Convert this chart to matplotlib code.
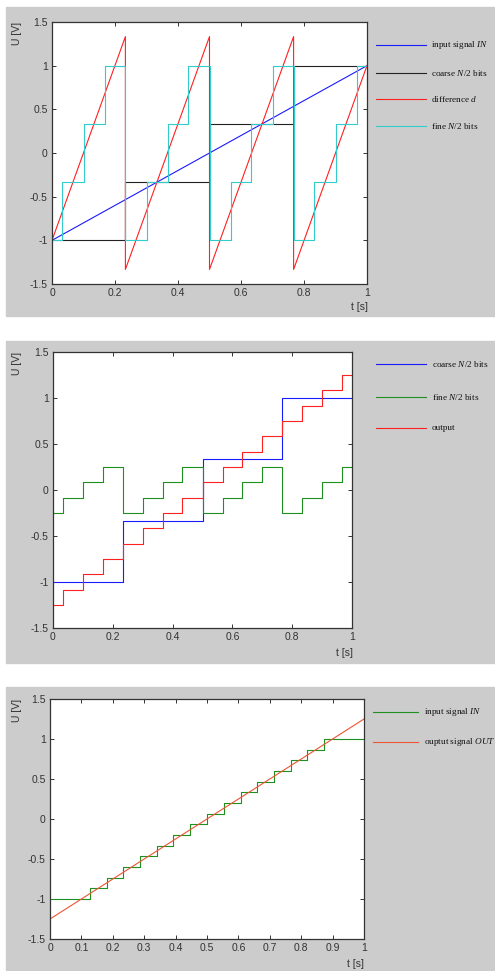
import matplotlib
matplotlib.use("Agg")
import matplotlib.pyplot as plt
from matplotlib.patches import Rectangle
from matplotlib.lines import Line2D

plt.rcParams["axes.unicode_minus"] = False
plt.rcParams["mathtext.fontset"] = "custom"
plt.rcParams["mathtext.rm"] = "Liberation Serif"
plt.rcParams["mathtext.it"] = "Liberation Serif:italic"

# --- panel 1: input, coarse, difference, fine ---
in1_t = [0, 1]
in1_u = [-1, 1]
coarse_t = [0, 0.233, 0.5, 0.767, 1]
coarse_u = [-1, -0.333, 0.333, 1, 1]
diff_t = [0, 0.233, 0.233, 0.5, 0.5, 0.767, 0.767, 1]
diff_u = [-1, 1.333, -1.333, 1.333, -1.333, 1.333, -1.333, 1.0]
fine_t = [0, 0.033, 0.1, 0.167, 0.233, 0.3, 0.367, 0.433, 0.5,
          0.567, 0.633, 0.7, 0.767, 0.833, 0.9, 0.967, 1]
fine1_u = [-1, -0.333, 0.333, 1, -1, -0.333, 0.333, 1, -1,
           -0.333, 0.333, 1, -1, -0.333, 0.333, 1, 1]

# --- panel 2: coarse, fine, output ---
fine2_u = [-0.25, -0.083, 0.083, 0.25, -0.25, -0.083, 0.083, 0.25, -0.25,
           -0.083, 0.083, 0.25, -0.25, -0.083, 0.083, 0.25, 0.25]
out2_u = [-1.25, -1.083, -0.917, -0.75, -0.583, -0.417, -0.25, -0.083, 0.083,
          0.25, 0.417, 0.583, 0.75, 0.917, 1.083, 1.25, 1.25]

# --- panel 3: input staircase, output ramp ---
in3_t = [0, 0.127, 0.18, 0.233, 0.287, 0.34, 0.393, 0.447, 0.5,
         0.553, 0.607, 0.66, 0.713, 0.767, 0.82, 0.873, 1]
in3_u = [-1, -0.867, -0.733, -0.6, -0.467, -0.333, -0.2, -0.067, 0.067,
         0.2, 0.333, 0.467, 0.6, 0.733, 0.867, 1, 1]
out3_t = [0, 1]
out3_u = [-1.25, 1.25]

yticks = [-1.5, -1, -0.5, 0, 0.5, 1, 1.5]
xticks1 = [0, 0.2, 0.4, 0.6, 0.8, 1]
xticks3 = [0, 0.1, 0.2, 0.3, 0.4, 0.5, 0.6, 0.7, 0.8, 0.9, 1]

W, H = 495, 971
fig = plt.figure(figsize=(W / 100, H / 100), dpi=100)
fig.patch.set_facecolor("white")

BG = "#cccccc"
TXT = "#333333"
BLUE = "#1a1aff"
BLACK = "#222222"
RED = "#ff2020"
CYAN = "#33cccc"
GREEN = "#1f8f1f"
ORANGE = "#ee5533"
lw = 0.8


def fx(px):
    return px / W


def fy(py):
    return 1 - py / H


def panel(top, bottom, ax_l, ax_t, ax_r, ax_b, xticks):
    fig.patches.append(Rectangle((fx(6), fy(bottom)), fx(W - 6), (bottom - top) / H,
                                 transform=fig.transFigure, color=BG, zorder=-5))
    ax = fig.add_axes([fx(ax_l), fy(ax_b), fx(ax_r - ax_l), (ax_b - ax_t) / H])
    ax.set_zorder(2)
    ax.set_xlim(0, 1)
    ax.set_ylim(-1.5, 1.5)
    ax.set_xticks(xticks)
    ax.set_yticks(yticks)
    ax.set_xticklabels(["%g" % v for v in xticks])
    ax.set_yticklabels(["%g" % v for v in yticks])
    ax.tick_params(direction="in", top=True, right=True, length=3, width=0.7,
                   colors=TXT, labelsize=7.5, pad=3)
    for lab in ax.get_xticklabels() + ax.get_yticklabels():
        lab.set_family("Liberation Sans")
    for s in ax.spines.values():
        s.set_color(TXT)
        s.set_linewidth(0.9)
    fig.text(fx(17), fy(ax_t), "U [V]", rotation=90, va="top", ha="center",
             fontsize=7.5, color=TXT, family="Liberation Sans")
    return ax


def legend_rows(rows, x0, x1, xt, size=6.7):
    for y, color, label in rows:
        fig.lines.append(Line2D([fx(x0), fx(x1)], [fy(y), fy(y)],
                                transform=fig.transFigure, color=color, lw=lw))
        fig.text(fx(xt), fy(y), label, va="center", ha="left", fontsize=size,
                 family="Liberation Serif", color="#111111")


# panel 1
ax1 = panel(7, 316, 52, 22, 367, 284, xticks1)
ax1.plot(in1_t, in1_u, color=BLUE, lw=lw)
ax1.step(coarse_t, coarse_u, where="post", color=BLACK, lw=lw)
ax1.plot(diff_t, diff_u, color=RED, lw=lw)
ax1.step(fine_t, fine1_u, where="post", color=CYAN, lw=lw)
fig.text(fx(368), fy(307), "t [s]", ha="right", va="center", fontsize=7.5,
         color=TXT, family="Liberation Sans")
legend_rows([(45, BLUE, "input signal $IN$"),
             (73, BLACK, "coarse $N$/2 bits"),
             (99, RED, "difference $d$"),
             (126, CYAN, "fine $N$/2 bits")], 376, 426, 431)

# panel 2
ax2 = panel(341, 663, 53, 352, 352, 628, xticks1)
ax2.step(coarse_t, coarse_u, where="post", color=BLUE, lw=lw)
ax2.step(fine_t, fine2_u, where="post", color=GREEN, lw=lw)
ax2.step(fine_t, out2_u, where="post", color=RED, lw=lw)
fig.text(fx(353), fy(653), "t [s]", ha="right", va="center", fontsize=7.5,
         color=TXT, family="Liberation Sans")
legend_rows([(364, BLUE, "coarse $N$/2 bits"),
             (397, GREEN, "fine $N$/2 bits"),
             (428, RED, "output")], 376, 426, 432)

# panel 3
ax3 = panel(687, 971, 50, 699, 364, 939, xticks3)
ax3.step(in3_t, in3_u, where="post", color=GREEN, lw=lw)
ax3.plot(out3_t, out3_u, color=ORANGE, lw=lw)
fig.text(fx(364), fy(964), "t [s]", ha="right", va="center", fontsize=7.5,
         color=TXT, family="Liberation Sans")
legend_rows([(712, GREEN, "input signal $IN$"),
             (742, ORANGE, "ouptut signal $OUT$")], 373, 418, 424, size=6.7)

fig.savefig("out.png", dpi=100)
